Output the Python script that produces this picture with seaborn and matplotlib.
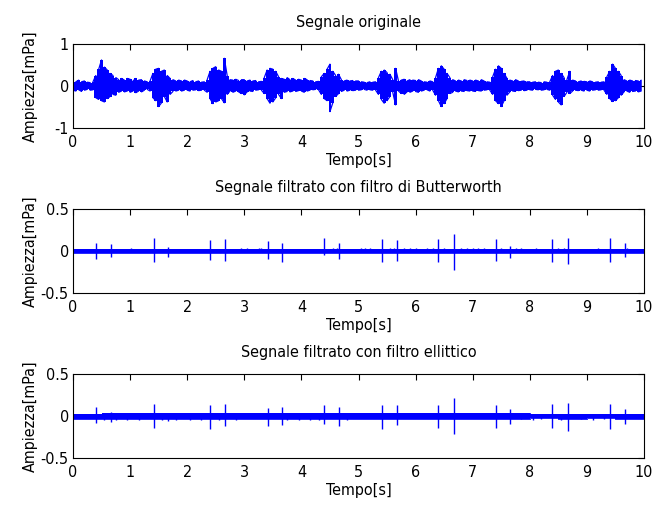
import numpy as np
import pandas as pd
import matplotlib
matplotlib.use("Agg")
import matplotlib.pyplot as plt
import seaborn as sns

# ---------------- data ----------------
# Original signal: upper / lower envelope per 0.05 s bin (0.00 ... 9.95 s)
t_orig = np.round(np.arange(200) * 0.05, 2)
orig_upper = [
    0.12, 0.10, 0.14, 0.10, 0.12, 0.09, 0.08, 0.10, 0.25, 0.40, 0.62, 0.45, 0.38, 0.30, 0.25, 0.20, 0.15, 0.18, 0.14, 0.18,
    0.16, 0.12, 0.18, 0.14, 0.15, 0.12, 0.10, 0.12, 0.30, 0.40, 0.42, 0.35, 0.38, 0.25, 0.18, 0.15, 0.12, 0.14, 0.12, 0.14,
    0.12, 0.10, 0.13, 0.10, 0.12, 0.09, 0.10, 0.15, 0.35, 0.42, 0.46, 0.38, 0.35, 0.66, 0.25, 0.15, 0.14, 0.16, 0.13, 0.15,
    0.15, 0.12, 0.14, 0.12, 0.13, 0.10, 0.11, 0.20, 0.38, 0.42, 0.40, 0.35, 0.22, 0.18, 0.16, 0.20, 0.15, 0.18, 0.14, 0.16,
    0.14, 0.18, 0.15, 0.13, 0.12, 0.10, 0.11, 0.22, 0.30, 0.40, 0.52, 0.35, 0.25, 0.28, 0.15, 0.12, 0.14, 0.12, 0.13, 0.12,
    0.12, 0.10, 0.09, 0.08, 0.10, 0.09, 0.10, 0.20, 0.35, 0.38, 0.32, 0.28, 0.15, 0.42, 0.12, 0.14, 0.16, 0.12, 0.15, 0.14,
    0.13, 0.15, 0.12, 0.10, 0.09, 0.12, 0.10, 0.20, 0.42, 0.48, 0.40, 0.30, 0.20, 0.15, 0.12, 0.14, 0.12, 0.15, 0.13, 0.14,
    0.12, 0.14, 0.12, 0.15, 0.12, 0.10, 0.09, 0.22, 0.40, 0.48, 0.42, 0.30, 0.18, 0.14, 0.12, 0.15, 0.12, 0.11, 0.12, 0.10,
    0.10, 0.09, 0.10, 0.09, 0.08, 0.10, 0.09, 0.10, 0.25, 0.35, 0.38, 0.30, 0.20, 0.15, 0.35, 0.14, 0.12, 0.10, 0.12, 0.11,
    0.10, 0.12, 0.10, 0.09, 0.10, 0.09, 0.10, 0.22, 0.35, 0.52, 0.42, 0.35, 0.25, 0.15, 0.12, 0.14, 0.12, 0.13, 0.12, 0.14,
]
orig_lower = [
    -0.10, -0.12, -0.09, -0.13, -0.10, -0.08, -0.10, -0.09, -0.28, -0.32, -0.35, -0.38, -0.30, -0.25, -0.20, -0.22, -0.15, -0.12, -0.14, -0.12,
    -0.15, -0.12, -0.16, -0.12, -0.14, -0.10, -0.08, -0.12, -0.28, -0.35, -0.49, -0.40, -0.25, -0.38, -0.20, -0.13, -0.12, -0.10, -0.12, -0.10,
    -0.10, -0.12, -0.10, -0.09, -0.11, -0.10, -0.10, -0.15, -0.30, -0.42, -0.38, -0.35, -0.30, -0.40, -0.20, -0.12, -0.15, -0.12, -0.14, -0.18,
    -0.21, -0.14, -0.12, -0.13, -0.10, -0.09, -0.10, -0.18, -0.30, -0.41, -0.38, -0.28, -0.20, -0.30, -0.15, -0.13, -0.14, -0.12, -0.13, -0.11,
    -0.12, -0.15, -0.12, -0.10, -0.09, -0.08, -0.09, -0.20, -0.30, -0.35, -0.61, -0.40, -0.25, -0.18, -0.13, -0.10, -0.12, -0.10, -0.11, -0.10,
    -0.10, -0.09, -0.08, -0.10, -0.09, -0.10, -0.10, -0.20, -0.32, -0.41, -0.35, -0.25, -0.15, -0.45, -0.12, -0.18, -0.20, -0.14, -0.15, -0.12,
    -0.13, -0.15, -0.12, -0.10, -0.09, -0.12, -0.10, -0.22, -0.35, -0.49, -0.42, -0.30, -0.18, -0.15, -0.12, -0.14, -0.12, -0.13, -0.11, -0.12,
    -0.12, -0.13, -0.11, -0.12, -0.10, -0.09, -0.10, -0.20, -0.35, -0.42, -0.49, -0.35, -0.22, -0.14, -0.12, -0.13, -0.11, -0.10, -0.11, -0.10,
    -0.09, -0.10, -0.08, -0.09, -0.10, -0.09, -0.08, -0.10, -0.22, -0.32, -0.38, -0.45, -0.25, -0.15, -0.18, -0.12, -0.10, -0.11, -0.10, -0.12,
    -0.10, -0.12, -0.10, -0.09, -0.10, -0.09, -0.10, -0.20, -0.30, -0.37, -0.35, -0.28, -0.22, -0.14, -0.12, -0.15, -0.13, -0.12, -0.14, -0.12,
]

# Filtered signals: thin band around zero (per 0.5 s) + isolated spikes
t_band = [0.0, 0.5, 1.0, 1.5, 2.0, 2.5, 3.0, 3.5, 4.0, 4.5, 5.0, 5.5, 6.0, 6.5, 7.0, 7.5, 8.0, 8.5, 9.0, 9.5, 10.0]
butter_band_up = [0.022, 0.022, 0.022, 0.022, 0.022, 0.022, 0.022, 0.022, 0.022, 0.022, 0.022,
                  0.022, 0.022, 0.022, 0.022, 0.022, 0.022, 0.022, 0.022, 0.022, 0.022]
butter_band_lo = [-0.024, -0.024, -0.024, -0.024, -0.024, -0.024, -0.024, -0.024, -0.024, -0.024, -0.024,
                  -0.024, -0.024, -0.024, -0.024, -0.024, -0.024, -0.024, -0.024, -0.024, -0.024]
butter_spike_t = [0.40, 0.67, 1.41, 1.67, 2.40, 2.67, 3.41, 3.66, 4.40, 4.66,
                  5.41, 5.68, 6.40, 6.67, 7.40, 7.66, 8.39, 8.67, 9.40, 9.66]
butter_spike_up = [0.10, 0.08, 0.15, 0.05, 0.13, 0.14, 0.12, 0.10, 0.15, 0.10,
                   0.14, 0.13, 0.14, 0.20, 0.14, 0.06, 0.14, 0.16, 0.15, 0.09]
butter_spike_lo = [-0.09, -0.07, -0.13, -0.07, -0.11, -0.12, -0.10, -0.13, -0.05, -0.10,
                   -0.13, -0.12, -0.13, -0.23, -0.12, -0.08, -0.13, -0.16, -0.13, -0.07]
butter_bump_t = [1.01, 2.95, 3.05, 3.25, 3.30, 4.55, 4.62, 5.05, 5.12, 5.20, 5.55, 5.62, 5.80,
                 5.90, 6.00, 6.20, 6.30, 6.50, 6.80, 6.90, 7.00, 7.10, 7.20, 7.50, 7.75, 7.85,
                 8.10, 8.50, 8.60, 9.20, 9.70]
butter_bump_up = [0.04, 0.04, 0.035, 0.04, 0.035, 0.04, 0.04, 0.035, 0.04, 0.035, 0.04, 0.035, 0.04,
                  0.035, 0.04, 0.035, 0.04, 0.04, 0.04, 0.035, 0.04, 0.04, 0.035, 0.04, 0.04, 0.035,
                  0.035, 0.04, 0.035, 0.035, 0.04]

ellip_band_up = [0.028, 0.034, 0.034, 0.034, 0.034, 0.034, 0.030, 0.034, 0.034, 0.034, 0.030,
                 0.030, 0.030, 0.030, 0.030, 0.030, 0.024, 0.028, 0.024, 0.028, 0.028]
ellip_band_lo = [-0.030, -0.036, -0.036, -0.036, -0.036, -0.036, -0.032, -0.036, -0.036, -0.036, -0.032,
                 -0.034, -0.034, -0.034, -0.034, -0.032, -0.026, -0.030, -0.026, -0.030, -0.030]
ellip_spike_t = [0.40, 0.66, 1.41, 1.67, 2.40, 2.67, 3.41, 3.66, 4.40, 4.66,
                 5.41, 5.68, 6.40, 6.67, 7.40, 7.66, 8.39, 8.67, 9.40, 9.66]
ellip_spike_up = [0.11, 0.05, 0.14, 0.04, 0.13, 0.14, 0.09, 0.11, 0.13, 0.11,
                  0.13, 0.13, 0.13, 0.22, 0.13, 0.08, 0.14, 0.15, 0.14, 0.08]
ellip_spike_lo = [-0.08, -0.07, -0.14, -0.06, -0.15, -0.12, -0.12, -0.11, -0.10, -0.12,
                  -0.15, -0.11, -0.14, -0.21, -0.14, -0.09, -0.14, -0.18, -0.15, -0.09]
ellip_bump_t = [0.55, 0.75, 0.95, 1.15, 1.55, 1.80, 2.05, 2.25, 2.55, 2.85, 3.75, 3.95, 4.15,
                4.30, 4.80, 7.85, 8.05, 8.20, 8.55, 8.90, 9.10, 9.30]
ellip_bump_lo = [-0.05, -0.045, -0.05, -0.045, -0.05, -0.05, -0.045, -0.05, -0.045, -0.05, -0.045,
                 -0.05, -0.045, -0.05, -0.045, -0.04, -0.045, -0.04, -0.045, -0.04, -0.045, -0.04]

titles = ["Segnale originale",
          "Segnale filtrato con filtro di Butterworth",
          "Segnale filtrato con filtro ellittico"]
xlabel = "Tempo[s]"
ylabel = "Ampiezza[mPa]"
x_ticks = [0, 1, 2, 3, 4, 5, 6, 7, 8, 9, 10]
y_ticks_top = [-1, 0, 1]
y_ticks_filt = [-0.5, 0, 0.5]
y_ticklabels_filt = ["-0.5", "0", "0.5"]

# ---------------- styling ----------------
sns.set_style("white")
plt.rcParams['font.family'] = ['DejaVu Sans']
plt.rcParams['font.stretch'] = 'condensed'
plt.rcParams['text.color'] = 'black'
plt.rcParams['axes.labelcolor'] = 'black'
plt.rcParams['xtick.color'] = 'black'
plt.rcParams['ytick.color'] = 'black'
FS = 11.5
BLUE = (0, 0, 1)

W, H = 654, 505
fig = plt.figure(figsize=(W / 100, H / 100), dpi=100)
left = 73 / W
width = 571 / W
ax_h = 84 / H
axes = [fig.add_axes([left, 1 - 128 / H, width, ax_h]),
        fig.add_axes([left, 1 - 293 / H, width, ax_h]),
        fig.add_axes([left, 1 - 458 / H, width, ax_h])]

# --- top: original signal (envelope zig-zag + stepped fill) ---
ax = axes[0]
zx, zy = [], []
for i, (tt, u, l) in enumerate(zip(t_orig, orig_upper, orig_lower)):
    if i % 2 == 0:
        zx += [tt, tt]; zy += [u, l]
    else:
        zx += [tt, tt]; zy += [l, u]
df_top = pd.DataFrame({"t": zx, "v": zy})
ax.fill_between(t_orig, orig_lower, orig_upper, step="mid", color=BLUE, lw=0)
sns.lineplot(data=df_top, x="t", y="v", sort=False, estimator=None,
             color=BLUE, lw=0.9, ax=ax)

# --- filtered signals ---
def draw_filtered(ax, band_up, band_lo, sp_t, sp_up, sp_lo, bump_t, bump_v):
    ax.fill_between(t_band, band_lo, band_up, step="post", color=BLUE, lw=0)
    df_b = pd.DataFrame({"t": t_band, "u": band_up, "l": band_lo})
    sns.lineplot(data=df_b, x="t", y="u", drawstyle="steps-post", color=BLUE, lw=0.6, ax=ax)
    sns.lineplot(data=df_b, x="t", y="l", drawstyle="steps-post", color=BLUE, lw=0.6, ax=ax)
    ax.vlines(sp_t, sp_lo, sp_up, color=BLUE, lw=1.0)
    ax.vlines(bump_t, [0] * len(bump_t), bump_v, color=BLUE, lw=1.0)

draw_filtered(axes[1], butter_band_up, butter_band_lo, butter_spike_t,
              butter_spike_up, butter_spike_lo, butter_bump_t, butter_bump_up)
draw_filtered(axes[2], ellip_band_up, ellip_band_lo, ellip_spike_t,
              ellip_spike_up, ellip_spike_lo, ellip_bump_t, ellip_bump_lo)

# --- axes decoration (MATLAB-like) ---
for i, ax in enumerate(axes):
    ax.set_xlim(0, 10)
    ax.set_xticks(x_ticks)
    ax.set_xticklabels([str(v) for v in x_ticks])
    if i == 0:
        ax.set_ylim(-1, 1)
        ax.set_yticks(y_ticks_top)
        ax.set_yticklabels([str(v) for v in y_ticks_top])
    else:
        ax.set_ylim(-0.5, 0.5)
        ax.set_yticks(y_ticks_filt)
        ax.set_yticklabels(y_ticklabels_filt)
    ax.tick_params(direction="in", top=True, right=True, length=4, width=0.8,
                   colors="black", labelsize=FS)
    ax.tick_params(axis="x", pad=5)
    ax.tick_params(axis="y", pad=3)
    for s in ax.spines.values():
        s.set_visible(True)
        s.set_color("black")
        s.set_linewidth(0.8)
    ax.set_title(titles[i], fontsize=FS, pad=12, color="black")
    ax.set_xlabel(xlabel, fontsize=FS, labelpad=2, color="black")
    ax.set_ylabel(ylabel, fontsize=FS, color="black")
    ax.yaxis.set_label_coords(-0.062, 0.5)
    ax.set_facecolor("white")

fig.savefig("out.png", dpi=100, facecolor="white")
